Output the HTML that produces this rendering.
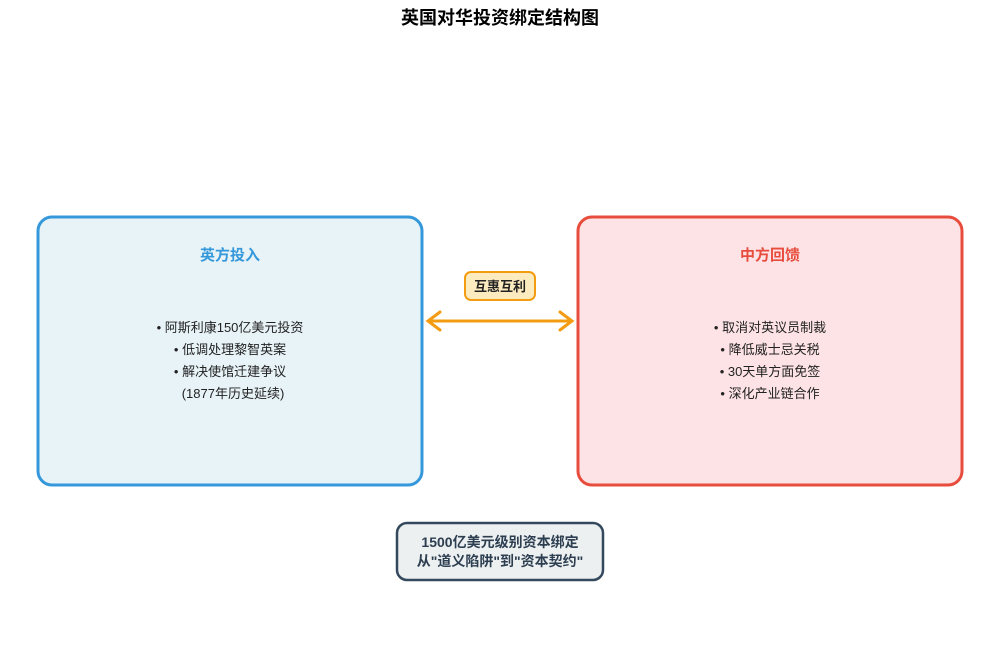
<!DOCTYPE html>
<html><head><meta charset="utf-8"><style>
body{margin:0;width:1000px;height:665px;background:#fff;font-family:"Liberation Sans","Noto Sans CJK SC",sans-serif;}
</style></head><body>
<svg width="1000" height="665" xmlns="http://www.w3.org/2000/svg" style="font-family:'Liberation Sans','Noto Sans CJK SC',sans-serif">
<text x="500" y="24" text-anchor="middle" font-size="18" font-weight="bold" fill="#000">英国对华投资绑定结构图</text>
<rect x="38" y="217" width="384" height="268" rx="14" fill="#e8f3f8" stroke="#3498db" stroke-width="3"/>
<rect x="578" y="217" width="384" height="268" rx="14" fill="#fde3e5" stroke="#e74c3c" stroke-width="3"/>
<text x="230" y="260" text-anchor="middle" font-size="15" font-weight="bold" fill="#3498db">英方投入</text>
<text x="770" y="260" text-anchor="middle" font-size="15" font-weight="bold" fill="#e74c3c">中方回馈</text>
<g font-size="13" fill="#222" text-anchor="middle">
<text x="230" y="332">• 阿斯利康150亿美元投资</text>
<text x="230" y="354">• 低调处理黎智英案</text>
<text x="230" y="376">• 解决使馆迁建争议</text>
<text x="233" y="398">(1877年历史延续)</text>
<text x="770" y="332">• 取消对英议员制裁</text>
<text x="770" y="354">• 降低威士忌关税</text>
<text x="770" y="376">• 30天单方面免签</text>
<text x="770" y="398">• 深化产业链合作</text>
</g>
<rect x="465" y="272" width="70" height="28" rx="6" fill="#fdebc0" stroke="#f39c12" stroke-width="2"/>
<text x="500" y="291" text-anchor="middle" font-size="13" font-weight="bold" fill="#222">互惠互利</text>
<line x1="428" y1="321" x2="572" y2="321" stroke="#f39c12" stroke-width="3"/>
<polyline points="440,312 428,321 440,330" fill="none" stroke="#f39c12" stroke-width="3" stroke-linecap="round"/>
<polyline points="560,312 572,321 560,330" fill="none" stroke="#f39c12" stroke-width="3" stroke-linecap="round"/>
<rect x="397" y="523" width="206" height="57" rx="10" fill="#ecf0f1" stroke="#34495e" stroke-width="2.5"/>
<text x="500" y="547" text-anchor="middle" font-size="14" font-weight="bold" fill="#2c3e50">1500亿美元级别资本绑定</text>
<text x="500" y="566" text-anchor="middle" font-size="14" font-weight="bold" fill="#2c3e50">从"道义陷阱"到"资本契约"</text>
</svg>
</body></html>
